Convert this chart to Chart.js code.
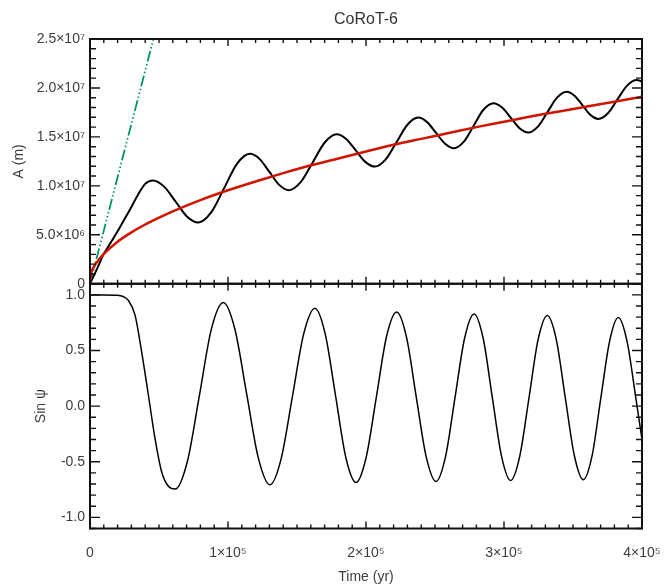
<!DOCTYPE html>
<html>
<head>
<meta charset="utf-8">
<script src="https://cdn.jsdelivr.net/npm/chart.js@4"></script>
<style>
html, body { margin: 0; background: #fff; }
</style>
</head>
<body>
<canvas id="grafica" width="670" height="587"></canvas>
<script>
// semieje mayor A (m), curva negra
var tiempo_a = [0, 5000, 10000, 15000, 20000, 25000, 30000, 35000, 40000, 45500,
	53700, 62000, 70200, 78500, 87800, 97200, 106500, 115900,
	123000, 130000, 137100, 144200, 152800, 161500, 170100, 178700,
	185600, 192600, 199500, 206500, 214300, 222200, 230000, 237900,
	244300, 250800, 257300, 263800, 270900, 278000, 285100, 292300,
	298600, 305000, 311300, 317600, 324500, 331500, 338400, 345400,
	351100, 356900, 362600, 368400, 375300, 382200, 389200, 396100, 400000];
var valores_a = [0, 1.5e6, 3.05e6, 4.2e6, 5.37e6, 6.6e6, 7.85e6, 9.15e6, 10.2e6, 10.55e6,
	9.92e6, 8.4e6, 6.88e6, 6.26e6, 7.29e6, 9.77e6, 12.25e6, 13.27e6,
	12.73e6, 11.42e6, 10.1e6, 9.56e6, 10.4e6, 12.42e6, 14.43e6, 15.27e6,
	14.79e6, 13.62e6, 12.45e6, 11.97e6, 12.7e6, 14.47e6, 16.24e6, 16.97e6,
	16.51e6, 15.4e6, 14.3e6, 13.84e6, 14.51e6, 16.14e6, 17.77e6, 18.44e6,
	18.0e6, 16.94e6, 15.88e6, 15.44e6, 16.05e6, 17.53e6, 19.01e6, 19.62e6,
	19.21e6, 18.23e6, 17.25e6, 16.84e6, 17.42e6, 18.83e6, 20.24e6, 20.82e6, 20.65e6];

// curva roja (tendencia media)
var tiempo_r = [0, 1000, 2500, 5000, 10000, 20000, 30000, 40000, 50000, 60000, 80000,
	100000, 120000, 140000, 160000, 180000, 200000, 220000, 240000, 260000,
	280000, 300000, 320000, 340000, 360000, 380000, 400000];
var valores_r = [0.2e6, 1.15e6, 1.65e6, 2.2e6, 3.05e6, 4.3e6, 5.25e6, 6.05e6, 6.75e6, 7.4e6, 8.55e6,
	9.55e6, 10.45e6, 11.3e6, 12.1e6, 12.8e6, 13.5e6, 14.2e6, 14.8e6, 15.4e6,
	16.0e6, 16.55e6, 17.1e6, 17.6e6, 18.1e6, 18.6e6, 19.1e6];

// recta verde (punto-raya)
var tiempo_v = [0, 50000];
var valores_v = [0, 2.72e7];

// Sin psi
var tiempo_s = [0, 10000, 20000, 24000, 27800, 32600, 37400, 42300, 47100, 51900, 56800, 61800,
	70500, 79200, 87900, 96600, 105000, 113500, 122000, 130400,
	138500, 146700, 154800, 163000, 170400, 177900, 185300, 192800,
	200100, 207500, 214800, 222200, 229300, 236400, 243600, 250700,
	257600, 264500, 271400, 278300, 284900, 291500, 298200, 304800,
	311400, 318100, 324700, 331400, 337900, 344400, 351000, 357500,
	363800, 370100, 376500, 382800, 389200, 395600, 400000];
var valores_s = [1.0, 1.0, 0.997, 0.985, 0.95, 0.82, 0.49, 0.10, -0.29, -0.59, -0.72, -0.745,
	-0.50, 0.09, 0.69, 0.931, 0.691, 0.112, -0.467, -0.707,
	-0.474, 0.087, 0.647, 0.88, 0.651, 0.097, -0.457, -0.686,
	-0.462, 0.08, 0.621, 0.845, 0.622, 0.084, -0.454, -0.677,
	-0.456, 0.076, 0.608, 0.829, 0.61, 0.081, -0.449, -0.668,
	-0.451, 0.073, 0.597, 0.814, 0.598, 0.076, -0.446, -0.662,
	-0.448, 0.067, 0.582, 0.796, 0.58, 0.067, -0.30];

// etiquetas de los ejes
var ticks_x = [0, 100000, 200000, 300000, 400000];
var etiquetas_x = ['0', '1×10⁵', '2×10⁵', '3×10⁵', '4×10⁵'];
var ticks_a = [0, 5e6, 1e7, 1.5e7, 2e7, 2.5e7];
var etiquetas_a = ['0', '5.0×10⁶', '1.0×10⁷', '1.5×10⁷', '2.0×10⁷', '2.5×10⁷'];
var ticks_s = [-1, -0.5, 0, 0.5, 1];
var etiquetas_s = ['-1.0', '-0.5', '0.0', '0.5', '1.0'];

function puntos(xs, ys) {
	return xs.map(function(t, i) { return {x: t, y: ys[i]}; });
}

var fuente = {family: "'Liberation Sans', Arial, sans-serif", size: 14};
var gris = '#3c3c3c';

// marco y marcas de los ejes al estilo IDL
var marco = {
	id: 'marco',
	afterDatasetsDraw: function(chart) {
		var c = chart.ctx;
		var x = chart.scales.x, ya = chart.scales.yA, ys = chart.scales.ySin;
		var i, p, l;
		c.save();
		c.strokeStyle = '#111';
		c.lineWidth = 1.4;
		c.beginPath();
		for (i = 0; i <= 40; i++) {
			p = x.getPixelForValue(i * 10000);
			l = (i % 10 === 0) ? 7 : 4;
			c.moveTo(p, ya.top); c.lineTo(p, ya.top + l);
			c.moveTo(p, ya.bottom); c.lineTo(p, ya.bottom - l);
			c.moveTo(p, ys.top); c.lineTo(p, ys.top + l);
			c.moveTo(p, ys.bottom); c.lineTo(p, ys.bottom - l);
		}
		for (i = 0; i <= 25; i++) {
			p = ya.getPixelForValue(i * 1e6);
			l = (i % 5 === 0) ? 10 : 6;
			c.moveTo(x.left, p); c.lineTo(x.left + l, p);
			c.moveTo(x.right, p); c.lineTo(x.right - l, p);
		}
		for (i = -11; i <= 11; i++) {
			p = ys.getPixelForValue(i / 10);
			l = (i % 5 === 0) ? 10 : 6;
			c.moveTo(x.left, p); c.lineTo(x.left + l, p);
			c.moveTo(x.right, p); c.lineTo(x.right - l, p);
		}
		c.stroke();
		c.lineWidth = 2;
		c.strokeRect(x.left, ya.top, x.right - x.left, ya.bottom - ya.top);
		c.strokeRect(x.left, ys.top, x.right - x.left, ys.bottom - ys.top);
		c.restore();
	}
};

var chart = new Chart(document.getElementById('grafica').getContext('2d'), {
	type: 'line',
	data: {
		datasets: [{
			data: puntos(tiempo_r, valores_r),
			yAxisID: 'yA',
			borderColor: 'rgb(208, 20, 0)',
			borderWidth: 2.5,
			pointRadius: 0,
			cubicInterpolationMode: 'monotone'
		}, {
			data: puntos(tiempo_a, valores_a),
			yAxisID: 'yA',
			borderColor: '#000',
			borderWidth: 2,
			pointRadius: 0,
			cubicInterpolationMode: 'monotone'
		}, {
			data: puntos(tiempo_v, valores_v),
			yAxisID: 'yA',
			borderColor: 'rgb(0, 150, 100)',
			borderWidth: 1.8,
			borderDash: [11, 2.5, 1.5, 2.5, 1.5, 2.5, 1.5, 2.5],
			pointRadius: 0,
			tension: 0
		}, {
			data: puntos(tiempo_s, valores_s),
			yAxisID: 'ySin',
			borderColor: '#000',
			borderWidth: 1.5,
			pointRadius: 0,
			cubicInterpolationMode: 'monotone'
		}]
	},
	options: {
		responsive: false,
		animation: false,
		layout: {padding: {left: 0, right: 28, top: 0, bottom: 0}},
		plugins: {
			legend: {display: false},
			tooltip: {enabled: false},
			title: {
				display: true,
				fullSize: false,
				text: 'CoRoT-6',
				color: '#333',
				font: {family: fuente.family, size: 16, weight: 'normal'},
				padding: {top: 10, bottom: 9.8}
			}
		},
		scales: {
			x: {
				type: 'linear',
				position: 'bottom',
				min: 0,
				max: 400000,
				grid: {display: false, drawTicks: false},
				border: {display: false},
				afterBuildTicks: function(s) { s.ticks = ticks_x.map(function(v) { return {value: v}; }); },
				afterFit: function(s) { s.height = 58.5; s.paddingLeft = 0; s.paddingRight = 0; },
				ticks: {
					color: gris, font: fuente, padding: 16, maxRotation: 0, autoSkip: false,
					callback: function(v, i) { return etiquetas_x[i]; }
				},
				title: {display: true, text: 'Time (yr)', color: gris, font: fuente, padding: {top: 0, bottom: 1.6}}
			},
			ySin: {
				type: 'linear',
				position: 'left',
				stack: 'panel',
				stackWeight: 1,
				weight: 0,
				min: -1.1,
				max: 1.1,
				grid: {display: false, drawTicks: false},
				border: {display: false},
				afterBuildTicks: function(s) { s.ticks = ticks_s.map(function(v) { return {value: v}; }); },
				afterFit: function(s) { s.width = 90; },
				ticks: {
					color: gris, font: fuente, padding: 5,
					callback: function(v, i) { return etiquetas_s[i]; }
				},
				title: {display: true, text: 'Sin ψ', color: gris, font: fuente, padding: {top: 33, bottom: 0}}
			},
			yA: {
				type: 'linear',
				position: 'left',
				stack: 'panel',
				stackWeight: 1,
				weight: 1,
				min: 0,
				max: 2.5e7,
				grid: {display: false, drawTicks: false},
				border: {display: false},
				afterBuildTicks: function(s) { s.ticks = ticks_a.map(function(v) { return {value: v}; }); },
				afterFit: function(s) { s.width = 90; },
				ticks: {
					color: gris, font: fuente, padding: 5,
					callback: function(v, i) { return etiquetas_a[i]; }
				},
				title: {display: true, text: 'A (m)', color: gris, font: fuente, padding: {top: 11, bottom: 0}}
			}
		}
	},
	plugins: [marco]
});
</script>
</body>
</html>
